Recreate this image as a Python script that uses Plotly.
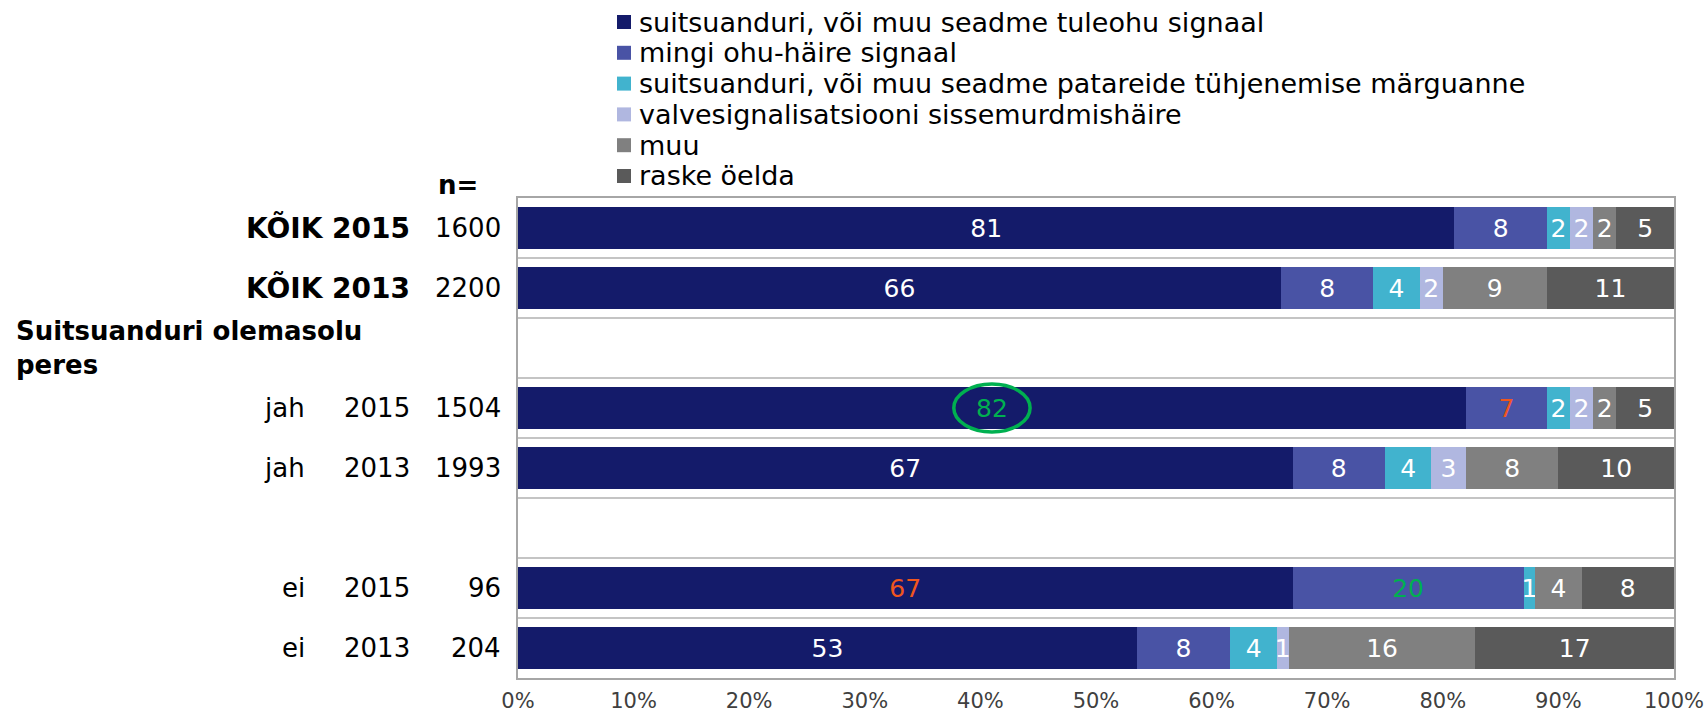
import plotly.graph_objects as go

# Row layout (top to bottom); None rows are spacer / section-header rows
row_keys = ["KÕIK 2015", "KÕIK 2013", "hdr", "jah 2015", "jah 2013", "gap", "ei 2015", "ei 2013"]
row_groups = [None, None, None, "jah", "jah", None, "ei", "ei"]
row_years = ["KÕIK 2015", "KÕIK 2013", None, "2015", "2013", None, "2015", "2013"]
row_bold = [True, True, False, False, False, False, False, False]
row_n = [1600, 2200, None, 1504, 1993, None, 96, 204]
section_title = "Suitsuanduri olemasolu<br>peres"

series_names = [
    "suitsuanduri, või muu seadme tuleohu signaal",
    "mingi ohu-häire signaal",
    "suitsuanduri, või muu seadme patareide tühjenemise märguanne",
    "valvesignalisatsiooni sissemurdmishäire",
    "muu",
    "raske öelda",
]
tuleohu = [81, 66, None, 82, 67, None, 67, 53]
ohuhaire = [8, 8, None, 7, 8, None, 20, 8]
patareid = [2, 4, None, 2, 4, None, 1, 4]
valve = [2, 2, None, 2, 3, None, 0, 1]
muu = [2, 9, None, 2, 8, None, 4, 16]
raske = [5, 11, None, 5, 10, None, 8, 17]
series_values = [tuleohu, ohuhaire, patareid, valve, muu, raske]

x_ticks = [0, 10, 20, 30, 40, 50, 60, 70, 80, 90, 100]
x_tick_text = [f"{v}%" for v in x_ticks]

colors = ["#141B6A", "#4953A5", "#41B3CE", "#B0B7E0", "#808080", "#5A5A5A"]
WHITE, ORANGE, GREEN = "#FFFFFF", "#F0561E", "#00B050"
# per-label colour overrides (series index, row key) -> colour
label_colors = {
    (0, "jah 2015"): GREEN,
    (1, "jah 2015"): ORANGE,
    (0, "ei 2015"): ORANGE,
    (1, "ei 2015"): GREEN,
}

FONT = "DejaVu Sans"

# plot-area pixel frame
W, H = 1708, 715
L, R, T, B = 518, 1674, 198, 678


def px_x(px):
    return (px - L) / (R - L)


def px_y(py):
    return (B - py) / (B - T)


fig = go.Figure()
for i, (name, vals) in enumerate(zip(series_names, series_values)):
    texts = ["" if (v is None or v == 0) else str(v) for v in vals]
    tcols = [label_colors.get((i, k), WHITE) for k in row_keys]
    fig.add_trace(go.Bar(
        name=name,
        y=row_keys,
        x=vals,
        orientation="h",
        marker=dict(color=colors[i], line=dict(width=0)),
        text=texts,
        texttemplate="%{text}",
        textposition="inside",
        insidetextanchor="middle",
        textangle=0,
        textfont=dict(family=FONT, size=25, color=tcols),
        cliponaxis=False,
        showlegend=False,
        hoverinfo="skip",
    ))

annotations = []
shapes = []

# left-hand row labels: group, year, sample size
for key, grp, yr, bold, n in zip(row_keys, row_groups, row_years, row_bold, row_n):
    if grp:
        annotations.append(dict(x=px_x(307), y=key, xref="paper", yref="y", text=grp,
                                xanchor="right", yanchor="middle", showarrow=False,
                                font=dict(family=FONT, size=26, color="#000")))
    if yr:
        annotations.append(dict(x=px_x(412), y=key, xref="paper", yref="y",
                                text=f"<b>{yr}</b>" if bold else yr,
                                xanchor="right", yanchor="middle", showarrow=False,
                                font=dict(family=FONT, size=28 if bold else 26, color="#000")))
    if n is not None:
        annotations.append(dict(x=px_x(503), y=key, xref="paper", yref="y", text=str(n),
                                xanchor="right", yanchor="middle", showarrow=False,
                                font=dict(family=FONT, size=26, color="#000")))

annotations.append(dict(x=px_x(14), y="hdr", xref="paper", yref="y",
                        text=f"<b>{section_title}</b>", align="left",
                        xanchor="left", yanchor="middle", showarrow=False,
                        font=dict(family=FONT, size=26, color="#000")))
annotations.append(dict(x=px_x(458), y=px_y(185), xref="paper", yref="paper",
                        text="<b>n=</b>", xanchor="center", yanchor="middle",
                        showarrow=False, font=dict(family=FONT, size=26, color="#000")))

# legend block: colour squares + series names
for i, name in enumerate(series_names):
    cy = 22 + i * 30.8
    shapes.append(dict(type="rect", xref="paper", yref="paper",
                       x0=px_x(617), x1=px_x(631), y0=px_y(cy + 7), y1=px_y(cy - 7),
                       fillcolor=colors[i], line=dict(width=0)))
    annotations.append(dict(x=px_x(637), y=px_y(cy), xref="paper", yref="paper",
                            text=name, xanchor="left", yanchor="middle", showarrow=False,
                            font=dict(family=FONT, size=27, color="#000")))

# highlight ring around the jah 2015 fire-signal label
ring_row = row_keys.index("jah 2015")
ring_cx = tuleohu[ring_row] / 2
shapes.append(dict(type="circle", xref="x", yref="y",
                   x0=ring_cx - 3.3, x1=ring_cx + 3.3,
                   y0=ring_row - 0.4, y1=ring_row + 0.4,
                   line=dict(color=GREEN, width=3.5)))

fig.update_layout(
    width=W, height=H,
    margin=dict(l=L, r=W - R, t=T, b=H - B, pad=0, autoexpand=False),
    barmode="stack",
    barnorm="percent",
    bargap=0.3,
    plot_bgcolor="#FFFFFF",
    paper_bgcolor="#FFFFFF",
    uniformtext=dict(minsize=25, mode="show"),
    annotations=annotations,
    shapes=shapes,
    font=dict(family=FONT, color="#000"),
    xaxis=dict(
        range=[0, 100.001], tickmode="array", tickvals=x_ticks, ticktext=x_tick_text,
        showgrid=False, zeroline=False, ticks="", ticklabelstandoff=3,
        automargin=False,
        showline=True, linecolor="#A6A6A6", linewidth=2, mirror=True,
        tickfont=dict(family=FONT, size=21, color="#404040"),
    ),
    yaxis=dict(
        categoryorder="array", categoryarray=row_keys, range=[7.5, -0.5],
        tickson="boundaries", showticklabels=False, ticks="",
        automargin=False,
        showgrid=True, gridcolor="#C4C4C4", gridwidth=2,
        showline=True, linecolor="#A6A6A6", linewidth=2, mirror=True,
        zeroline=False,
    ),
)

fig.write_html("out.html")
